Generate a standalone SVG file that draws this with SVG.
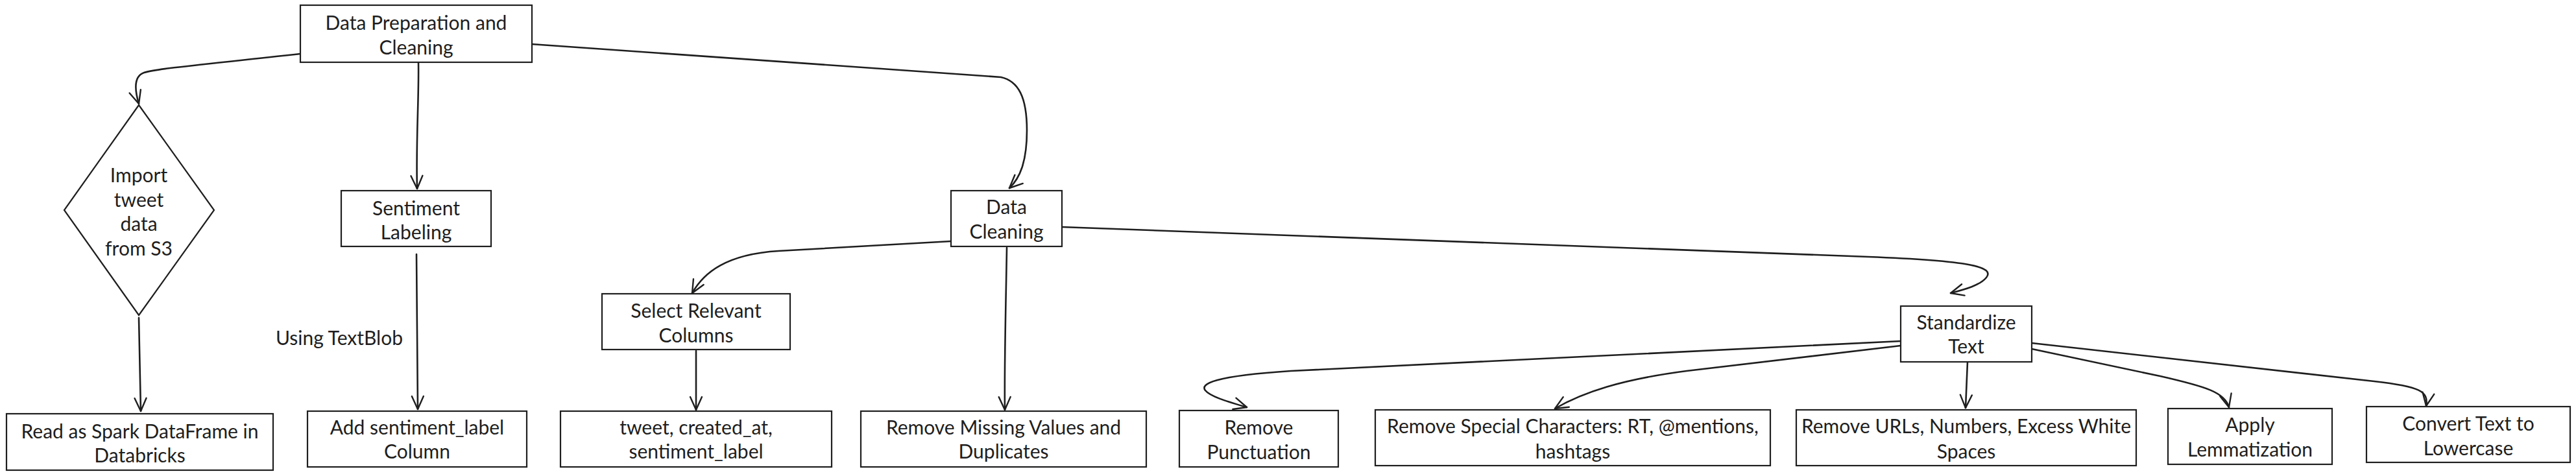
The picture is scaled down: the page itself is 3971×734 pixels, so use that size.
<svg xmlns="http://www.w3.org/2000/svg" width="3971" height="734" viewBox="0 0 3971 734">
<style>
.box{fill:#ffffff;stroke:#1e1e1e;stroke-width:2.2}
.t{font-family:Lato,"Liberation Sans",sans-serif;font-size:30px;fill:#1e1e1e;text-anchor:middle;dominant-baseline:central}
.c{fill:none;stroke:#1e1e1e;stroke-width:2.6;stroke-linecap:round;stroke-linejoin:round}
</style>
<defs>
<marker id="ah" viewBox="0 0 24 24" refX="22" refY="12" markerWidth="24" markerHeight="24" markerUnits="userSpaceOnUse" orient="auto">
<path d="M2,3 L22,12 L2,21" fill="none" stroke="#1e1e1e" stroke-width="2.4" stroke-linecap="round" stroke-linejoin="round"/>
</marker>
</defs>
<rect width="3971" height="734" fill="#ffffff"/>
<g id="connectors">
<path class="c" marker-end="url(#ah)" d="M463,83 C300,101 240,106 222,112 C205,118 208,140 214,160"/>
<path class="c" marker-end="url(#ah)" d="M645,97 C646,150 641,220 643,291"/>
<path class="c" marker-end="url(#ah)" d="M819,68 L1543,119 C1570,125 1583,150 1583,201 C1583,250 1572,275 1556,290"/>
<path class="c" marker-end="url(#ah)" d="M214,490 L217,634"/>
<path class="c" marker-end="url(#ah)" d="M642,392 L644,631"/>
<path class="c" marker-end="url(#ah)" d="M1466,372 L1200,387 C1120,392 1085,420 1067,452"/>
<path class="c" marker-end="url(#ah)" d="M1073,541 L1073,632"/>
<path class="c" marker-end="url(#ah)" d="M1552,382 C1551,450 1548,560 1549,632"/>
<path class="c" marker-end="url(#ah)" d="M1637,350 L2880,396 C3040,402 3075,412 3062,428 C3052,440 3030,446 3007,452"/>
<path class="c" marker-end="url(#ah)" d="M2930,526 L1990,572 C1870,580 1850,592 1858,602 C1866,612 1895,620 1922,628"/>
<path class="c" marker-end="url(#ah)" d="M2930,533 L2600,572 C2500,585 2440,605 2397,630"/>
<path class="c" marker-end="url(#ah)" d="M3033,558 L3030,629"/>
<path class="c" marker-end="url(#ah)" d="M3132,538 L3330,580 C3400,596 3430,605 3436,628"/>
<path class="c" marker-end="url(#ah)" d="M3132,529 L3660,588 C3730,596 3744,603 3740,626"/>
</g>
<g id="n-prep"><rect class="box" x="463" y="8" width="357" height="88"/><text class="t" x="641.5" y="34">Data Preparation and</text><text class="t" x="641.5" y="72">Cleaning</text></g>
<g id="n-import"><polygon class="box" points="214,162 330,324 214,486 99,324"/><text class="t" x="214" y="269">Import</text><text class="t" x="214" y="307">tweet</text><text class="t" x="214" y="344">data</text><text class="t" x="214" y="382">from S3</text></g>
<g id="n-sentiment"><rect class="box" x="526" y="294" width="231" height="86"/><text class="t" x="641.5" y="320">Sentiment</text><text class="t" x="641.5" y="357">Labeling</text></g>
<g id="n-read"><rect class="box" x="10" y="638" width="411" height="87"/><text class="t" x="215.5" y="664">Read as Spark DataFrame in</text><text class="t" x="215.5" y="701">Databricks</text></g>
<g id="lbl-textblob"><text class="t" x="523" y="520">Using TextBlob</text></g>
<g id="n-add"><rect class="box" x="474" y="634" width="338" height="86"/><text class="t" x="643" y="658">Add sentiment_label</text><text class="t" x="643" y="695">Column</text></g>
<g id="n-dc"><rect class="box" x="1466" y="294" width="171" height="86"/><text class="t" x="1551.5" y="318">Data</text><text class="t" x="1551.5" y="356">Cleaning</text></g>
<g id="n-select"><rect class="box" x="928" y="453" width="290" height="86"/><text class="t" x="1073" y="478">Select Relevant</text><text class="t" x="1073" y="516">Columns</text></g>
<g id="n-tweet"><rect class="box" x="864" y="634" width="418" height="86"/><text class="t" x="1073" y="658">tweet, created_at,</text><text class="t" x="1073" y="695">sentiment_label</text></g>
<g id="n-missing"><rect class="box" x="1327" y="634" width="440" height="86"/><text class="t" x="1547" y="658">Remove Missing Values and</text><text class="t" x="1547" y="695">Duplicates</text></g>
<g id="n-punct"><rect class="box" x="1818" y="633" width="245" height="87"/><text class="t" x="1940.5" y="658">Remove</text><text class="t" x="1940.5" y="696">Punctuation</text></g>
<g id="n-special"><rect class="box" x="2120" y="632" width="609" height="86"/><text class="t" x="2424.5" y="656">Remove Special Characters: RT, @mentions,</text><text class="t" x="2424.5" y="695">hashtags</text></g>
<g id="n-standardize"><rect class="box" x="2930" y="472" width="202" height="86"/><text class="t" x="3031" y="496">Standardize</text><text class="t" x="3031" y="533">Text</text></g>
<g id="n-urls"><rect class="box" x="2769" y="632" width="524" height="86"/><text class="t" x="3031" y="656">Remove URLs, Numbers, Excess White</text><text class="t" x="3031" y="695">Spaces</text></g>
<g id="n-lemma"><rect class="box" x="3342" y="630" width="253" height="86"/><text class="t" x="3468.5" y="654">Apply</text><text class="t" x="3468.5" y="692">Lemmatization</text></g>
<g id="n-lower"><rect class="box" x="3648" y="627" width="314" height="86"/><text class="t" x="3805" y="652">Convert Text to</text><text class="t" x="3805" y="690">Lowercase</text></g>
</svg>
